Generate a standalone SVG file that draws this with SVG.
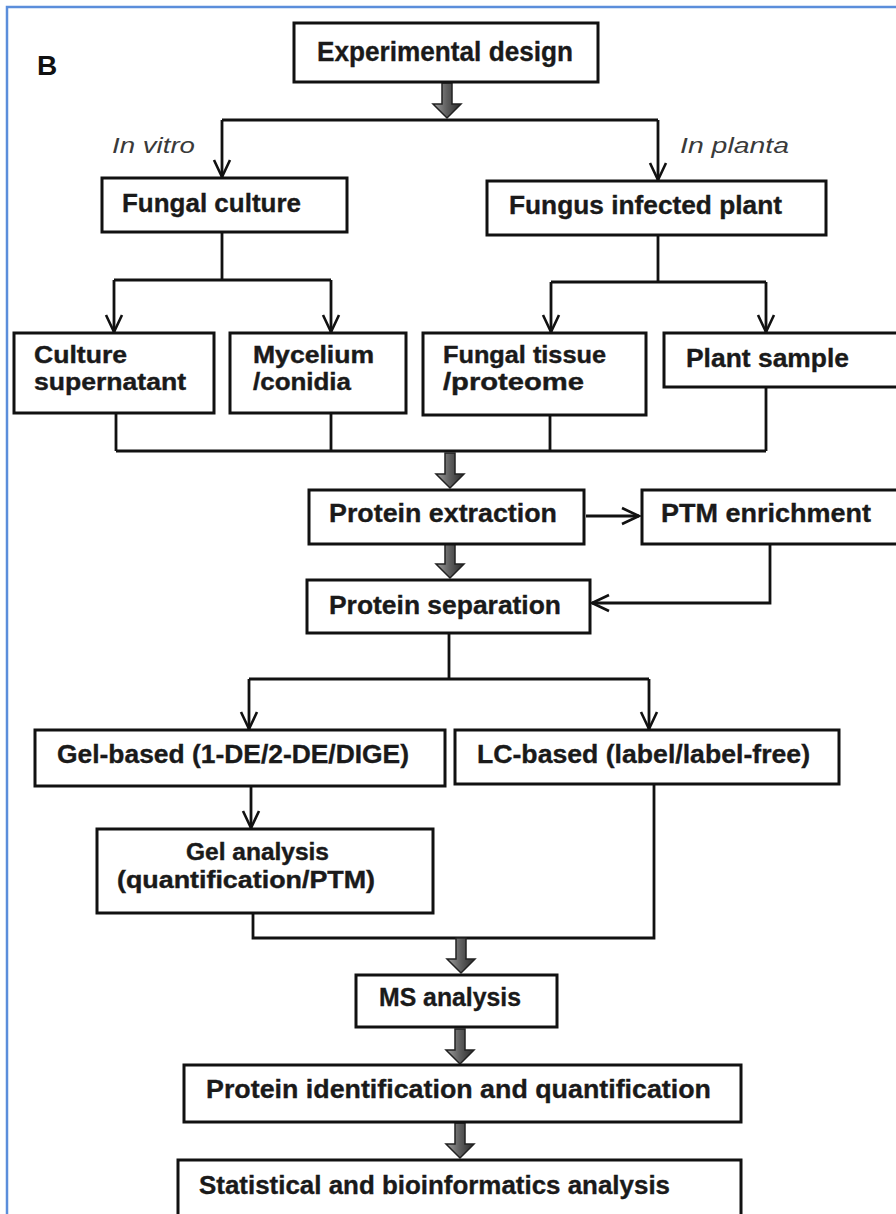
<svg xmlns="http://www.w3.org/2000/svg" xmlns:xlink="http://www.w3.org/1999/xlink" width="896" height="1214" viewBox="0 0 896 1214">
<style>
.box{fill:#ffffff;stroke:#111111;stroke-width:3}
.t{font-family:"Liberation Sans",Arial,sans-serif;font-weight:bold;font-size:26px;fill:#1a1a1a;stroke:#1a1a1a;stroke-width:0.35}
.t2{font-family:"Liberation Sans",Arial,sans-serif;font-weight:bold;font-size:23px;fill:#1a1a1a;stroke:#1a1a1a;stroke-width:0.4}
.it{font-family:"Liberation Sans",Arial,sans-serif;font-style:italic;font-size:22px;fill:#3a3a3a}
.c{fill:none;stroke:#111111;stroke-width:2.8}
.ca{fill:none;stroke:#111111;stroke-width:2.8;marker-end:url(#open)}
</style>
<defs>
<marker id="open" markerUnits="userSpaceOnUse" markerWidth="24" markerHeight="24" viewBox="-20 -12 24 24" refX="0" refY="0" orient="auto">
<path d="M-17,-8 L0,0 L-17,8" fill="none" stroke="#111111" stroke-width="2.6"/>
</marker>
<linearGradient id="bg" x1="0" y1="0" x2="1" y2="0">
<stop offset="0" stop-color="#a0a0a0"/>
<stop offset="0.5" stop-color="#5e5e5e"/>
<stop offset="1" stop-color="#2a2a2a"/>
</linearGradient>
<path id="blk" d="M-5,-35 H5 V-14 H14 L0,0 L-14,-14 H-5 Z" fill="url(#bg)" stroke="#222222" stroke-width="1.5" stroke-linejoin="miter"/>
</defs>
<rect x="0" y="0" width="896" height="1214" fill="#ffffff"/>
<rect x="7" y="7" width="900" height="1230" fill="none" stroke="#5b8edb" stroke-width="2.5"/>
<text x="37" y="75" style="font-family:'Liberation Sans',Arial,sans-serif;font-weight:bold;font-size:28px;fill:#111">B</text>

<g id="connectors">
<path class="c" d="M222,120 H658"/>
<path class="ca" d="M222,120 V177"/>
<path class="ca" d="M658,120 V180"/>
<path class="c" d="M222,232 V280 M114,280 H331"/>
<path class="ca" d="M114,280 V332"/>
<path class="ca" d="M331,280 V332"/>
<path class="c" d="M658,235 V282 M551,282 H766"/>
<path class="ca" d="M551,282 V332"/>
<path class="ca" d="M766,282 V332"/>
<path class="c" d="M116,413 V451 M331,413 V451 M550,415 V451 M766,387 V451 M116,451 H766"/>
<path class="ca" d="M586,516 H639"/>
<path class="ca" d="M770,544 V603 H592"/>
<path class="c" d="M449,633 V679 M249,679 H649"/>
<path class="ca" d="M249,679 V729"/>
<path class="ca" d="M649,679 V729"/>
<path class="ca" d="M251,786 V828"/>
<path class="c" d="M253,913 V938 H654 V784"/>
<use xlink:href="#blk" href="#blk" x="447" y="118"/>
<use xlink:href="#blk" href="#blk" x="450" y="488"/>
<use xlink:href="#blk" href="#blk" x="450" y="578"/>
<use xlink:href="#blk" href="#blk" x="461" y="973"/>
<use xlink:href="#blk" href="#blk" x="460" y="1064"/>
<use xlink:href="#blk" href="#blk" x="460" y="1158"/>
<text class="it" x="112" y="153" textLength="83" lengthAdjust="spacingAndGlyphs">In vitro</text>
<text class="it" x="680" y="153" textLength="109" lengthAdjust="spacingAndGlyphs">In planta</text>
</g>

<g id="n-exp">
<rect class="box" x="294" y="23" width="304" height="59"/>
<text class="t" x="317" y="61" style="font-size:28px" textLength="256" lengthAdjust="spacingAndGlyphs">Experimental design</text>
</g>
<g id="n-fungal-culture">
<rect class="box" x="102" y="178" width="245" height="54"/>
<text class="t" x="122" y="212" textLength="179" lengthAdjust="spacingAndGlyphs">Fungal culture</text>
</g>
<g id="n-infected-plant">
<rect class="box" x="487" y="181" width="339" height="54"/>
<text class="t" x="509" y="214" textLength="273" lengthAdjust="spacingAndGlyphs">Fungus infected plant</text>
</g>
<g id="n-supernatant">
<rect class="box" x="14" y="333" width="200" height="80"/>
<text class="t2" x="34" y="363" textLength="93" lengthAdjust="spacingAndGlyphs">Culture</text>
<text class="t2" x="34" y="390" textLength="152" lengthAdjust="spacingAndGlyphs">supernatant</text>
</g>
<g id="n-mycelium">
<rect class="box" x="230" y="333" width="176" height="80"/>
<text class="t2" x="253" y="363" textLength="121" lengthAdjust="spacingAndGlyphs">Mycelium</text>
<text class="t2" x="253" y="390" textLength="98" lengthAdjust="spacingAndGlyphs">/conidia</text>
</g>
<g id="n-fungal-tissue">
<rect class="box" x="423" y="333" width="223" height="82"/>
<text class="t2" x="443" y="363" textLength="163" lengthAdjust="spacingAndGlyphs">Fungal  tissue</text>
<text class="t2" x="443" y="390" textLength="141" lengthAdjust="spacingAndGlyphs">/proteome</text>
</g>
<g id="n-plant-sample">
<rect class="box" x="664" y="333" width="250" height="54"/>
<text class="t" x="686" y="367" textLength="163" lengthAdjust="spacingAndGlyphs">Plant sample</text>
</g>
<g id="n-extraction">
<rect class="box" x="309" y="490" width="275" height="54"/>
<text class="t" x="329" y="522" textLength="228" lengthAdjust="spacingAndGlyphs">Protein extraction</text>
</g>
<g id="n-ptm">
<rect class="box" x="642" y="490" width="270" height="54"/>
<text class="t" x="661" y="522" textLength="210" lengthAdjust="spacingAndGlyphs">PTM enrichment</text>
</g>
<g id="n-separation">
<rect class="box" x="307" y="580" width="283" height="53"/>
<text class="t" x="329" y="614" textLength="232" lengthAdjust="spacingAndGlyphs">Protein separation</text>
</g>
<g id="n-gel-based">
<rect class="box" x="35" y="730" width="410" height="56"/>
<text class="t" x="57" y="763" textLength="352" lengthAdjust="spacingAndGlyphs">Gel-based (1-DE/2-DE/DIGE)</text>
</g>
<g id="n-lc-based">
<rect class="box" x="455" y="730" width="384" height="54"/>
<text class="t" x="477" y="763" textLength="333" lengthAdjust="spacingAndGlyphs">LC-based (label/label-free)</text>
</g>
<g id="n-gel-analysis">
<rect class="box" x="97" y="829" width="336" height="84"/>
<text class="t2" x="186" y="860" textLength="143" lengthAdjust="spacingAndGlyphs">Gel analysis</text>
<text class="t2" x="117" y="888" textLength="258" lengthAdjust="spacingAndGlyphs">(quantification/PTM)</text>
</g>
<g id="n-ms">
<rect class="box" x="356" y="975" width="201" height="52"/>
<text class="t" x="379" y="1006" textLength="142" lengthAdjust="spacingAndGlyphs">MS analysis</text>
</g>
<g id="n-identification">
<rect class="box" x="184" y="1065" width="557" height="57"/>
<text class="t" x="206" y="1098" textLength="505" lengthAdjust="spacingAndGlyphs">Protein identification  and  quantification</text>
</g>
<g id="n-statistical">
<rect class="box" x="178" y="1160" width="563" height="60"/>
<text class="t" x="199" y="1194" textLength="471" lengthAdjust="spacingAndGlyphs">Statistical  and  bioinformatics  analysis</text>
</g>
</svg>
